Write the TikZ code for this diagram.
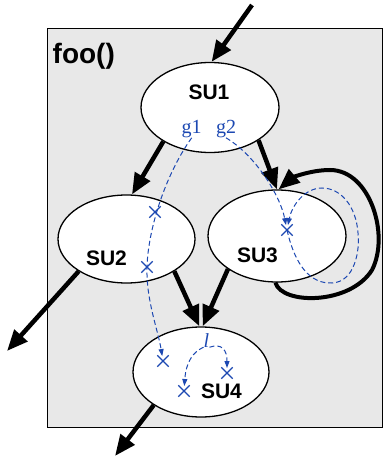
\documentclass[tikz,border=0pt]{standalone}
\usepackage{fontspec}
\setmainfont{Liberation Serif}
\setsansfont{Liberation Sans}
\usetikzlibrary{arrows.meta,shapes.geometric,shapes.misc}
\definecolor{boxgray}{RGB}{232,232,232}
\definecolor{dblue}{RGB}{28,72,178}
\begin{document}
\begin{tikzpicture}[x=1pt,y=-1pt,
  su/.style={ellipse,draw,line width=1.3pt,fill=white,inner sep=0pt},
  sulabel/.style={font=\sffamily\bfseries\fontsize{21}{21}\selectfont,anchor=base,inner sep=0pt},
  titlelabel/.style={font=\sffamily\bfseries\fontsize{28}{28}\selectfont,anchor=base west,inner sep=0pt},
  flow/.style={line width=4.5pt,-{Triangle[length=21pt,width=17pt]}},
  dep/.style={dblue,line width=1pt,dash pattern=on 5pt off 3pt,-{Triangle[length=7pt,width=5pt]},shorten >=5pt},
  xmark/.style={cross out,draw=dblue,line width=1.3pt,minimum size=10pt,inner sep=0pt},
  gl/.style={text=dblue,font=\fontsize{20}{20}\selectfont,anchor=base,inner sep=0pt}]

\useasboundingbox (0,0) rectangle (383,457);

% container
\node[draw,line width=1.2pt,fill=boxgray,minimum width=335pt,minimum height=399pt,
      inner sep=0pt,anchor=north west] (box) at (46.5,28) {};
\node[titlelabel] (foo) at (52.5,64) {foo()};

% ellipses
\node[su,minimum width=138pt,minimum height=90pt] (su1) at (210,107.5) {};
\node[su,minimum width=137pt,minimum height=88pt] (su2) at (126.5,239) {};
\node[su,minimum width=138pt,minimum height=92pt] (su3) at (277,236) {};
\node[su,minimum width=136pt,minimum height=90pt] (su4) at (201,372) {};

\node[sulabel] (t1) at (209,100) {SU1};
\node[sulabel] (t2) at (106.5,265) {SU2};
\node[sulabel] (t3) at (257.5,262) {SU3};
\node[sulabel] (t4) at (221.5,398) {SU4};

\node[gl] (g1) at (191.7,133.3) {g1};
\node[gl] (g2) at (226,133.3) {g2};
\node[gl,font=\itshape\fontsize{20}{20}\selectfont] (l) at (206.5,347) {l};

% cross marks
\node[xmark] (xa) at (155,212) {};
\node[xmark] (xb) at (147,267) {};
\node[xmark] (xc) at (287,230) {};
\node[xmark] (xd) at (163,361) {};
\node[xmark] (xe) at (184,391) {};
\node[xmark] (xf) at (227,373) {};

% free ends
\coordinate (in) at (252,5);
\coordinate (outa) at (7,351);
\coordinate (outb) at (115,456);

% control flow
\draw[flow] (in) -- (su1.88);
\draw[flow] (su1.216) -- (su2.83);
\draw[flow] (su1.326) -- (su3.90);
\draw[flow] (su2.326) -- (su4.92);
\draw[flow] (su3.214) -- (su4.88);
\draw[flow] (su2.214) -- (outa);
\draw[flow] (su4.215) -- (outb);
\draw[flow,line width=4pt] (su3.268) .. controls (282,305) and (350,305) .. (372,270)
   .. controls (390,235) and (370,170) .. (330,170)
   .. controls (310,170) and (292,178) .. (su3.88);

% dependences
\draw[dep] (g1.south) .. controls (165,175) and (148,230) .. (xb.center)
   .. controls (146,300) and (158,330) .. (xd.center);
\draw[dep] (g2.south) .. controls (255,155) and (280,195) .. (xc.center);
\draw[dep] (xc.center) .. controls (295,265) and (310,284) .. (332,283)
   .. controls (355,282) and (360,250) .. (358,233)
   .. controls (356,205) and (340,188) .. (322,188)
   .. controls (305,188) and (292,205) .. (xc.center);
\draw[dep] (l.south west) .. controls (193,352) and (186,362) .. (xe.center);
\draw[dep] (l.south east) .. controls (222,343) and (227,350) .. (xf.center);
\end{tikzpicture}
\end{document}
